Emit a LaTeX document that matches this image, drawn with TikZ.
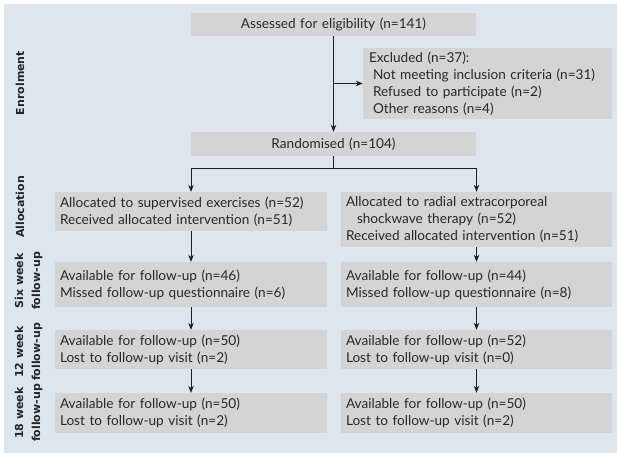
\documentclass[tikz,border=0pt]{standalone}
\usepackage{fontspec}
\setmainfont{Lato}
\newfontfamily\labfont{DejaVu Sans}
\usetikzlibrary{arrows.meta}
\definecolor{bgblue}{RGB}{221,230,238}
\definecolor{boxg}{RGB}{212,212,212}
\definecolor{txt}{RGB}{40,40,40}
\definecolor{arrc}{RGB}{30,30,30}
\tikzset{
  box/.style={fill=boxg, inner xsep=5pt, inner ysep=0pt, align=left,
    text=txt, font=\fontsize{13.6}{17}\selectfont},
  lbox/.style={box, text width=262pt},
  rbox/.style={box, text width=261pt},
  lab/.style={rotate=90, align=center, text=black!85,
    font=\labfont\bfseries\fontsize{11}{17}\selectfont, inner sep=0pt},
  arr/.style={draw=arrc, line width=0.9pt, -{Stealth[length=7pt,width=5.5pt]}}
}
\begin{document}
\begin{tikzpicture}[x=1pt,y=-1pt]
\useasboundingbox (0,0) rectangle (617,455);
\fill[bgblue] (4,4) rectangle (617,453);
% boxes
\node[box, align=center, text width=275pt, minimum height=23pt] (assess) at (333.5,24.5) {Assessed for eligibility (n=141)};
\node[box, inner xsep=6pt, text width=237pt, minimum height=71pt] (excl) at (487.5,83.5) {Excluded (n=37):\\
\hspace*{4pt}Not meeting inclusion criteria (n=31)\\
\hspace*{4pt}Refused to participate (n=2)\\
\hspace*{4pt}Other reasons (n=4)};
\node[box, align=center, text width=275pt, minimum height=24pt] (rand) at (333.5,144) {Randomised (n=104)};
\node[lbox, minimum height=39pt] (allocL) at (191,211.5) {Allocated to supervised exercises (n=52)\\Received allocated intervention (n=51)};
\node[rbox, minimum height=55pt] (allocR) at (476.5,219.5) {Allocated to radial extracorporeal\\\hspace*{11pt}shockwave therapy (n=52)\\Received allocated intervention (n=51)};
\node[lbox, minimum height=45pt] (sixL) at (191,284.5) {Available for follow-up (n=46)\\Missed follow-up questionnaire (n=6)};
\node[rbox, minimum height=45pt] (sixR) at (476.5,284.5) {Available for follow-up (n=44)\\Missed follow-up questionnaire (n=8)};
\node[lbox, minimum height=39pt] (twL) at (191,349.5) {Available for follow-up (n=50)\\Lost to follow-up visit (n=2)};
\node[rbox, minimum height=39pt] (twR) at (476.5,349.5) {Available for follow-up (n=52)\\Lost to follow-up visit (n=0)};
\node[lbox, minimum height=40pt] (eiL) at (191,413) {Available for follow-up (n=50)\\Lost to follow-up visit (n=2)};
\node[rbox, minimum height=40pt] (eiR) at (476.5,413) {Available for follow-up (n=50)\\Lost to follow-up visit (n=2)};
% stage labels
\node[lab] (lenrol) at (20,83) {Enrolment};
\node[lab] (lalloc) at (20,207) {Allocation};
\node[lab] (lsix) at (28.5,281) {Six week\\follow-up};
\node[lab] (ltw) at (28.5,352) {12 week\\follow-up};
\node[lab] (lei) at (28.5,413) {18 week\\follow-up};
% connectors
\coordinate (ex) at (333.5,83.5);
\coordinate (br) at (333.5,168);
\draw[arr] (assess.south) -- (rand.north);
\draw[arr] (ex) -- (excl.west);
\draw[arr] (rand.south) -- (br) -| (allocL.north);
\draw[arr] (br) -| (allocR.north);
\draw[arr] (allocL.south) -- (sixL.north);
\draw[arr] (allocR.south) -- (sixR.north);
\draw[arr] (sixL.south) -- (twL.north);
\draw[arr] (sixR.south) -- (twR.north);
\draw[arr] (twL.south) -- (eiL.north);
\draw[arr] (twR.south) -- (eiR.north);
\end{tikzpicture}
\end{document}
